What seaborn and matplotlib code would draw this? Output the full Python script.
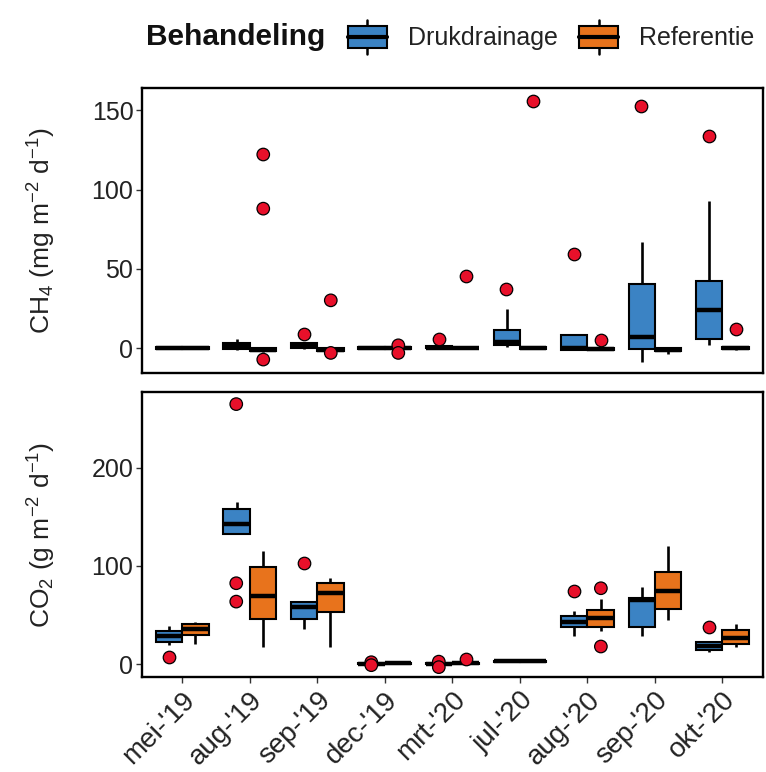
import numpy as np
import pandas as pd
import matplotlib
matplotlib.use("Agg")
import matplotlib.pyplot as plt
import seaborn as sns
from matplotlib.legend_handler import HandlerBase
from matplotlib.patches import Rectangle, Patch
from matplotlib.lines import Line2D

# ---------------- data ----------------
months = ["mei-'19", "aug-'19", "sep-'19", "dec-'19", "mrt-'20",
          "jul-'20", "aug-'20", "sep-'20", "okt-'20"]
treatments = ["Drukdrainage", "Referentie"]

# CH4 (mg m-2 d-1): whisker-low, Q1, median, Q3, whisker-high
ch4_D_lo  = [-0.5, -1.0, -0.5, -0.5, -0.5,  0.5, -1.0, -9.0,  2.0]
ch4_D_q1  = [-0.4, -0.5,  0.0, -0.4, -0.3,  1.7, -1.0, -0.4,  5.5]
ch4_D_med = [ 0.0,  1.0,  1.0,  0.0,  0.3,  4.0,  0.0,  7.0, 24.0]
ch4_D_q3  = [ 0.4,  3.0,  3.0,  0.4,  1.0, 11.6,  8.0, 40.6, 42.0]
ch4_D_hi  = [ 0.5,  6.0,  4.0,  0.5,  1.5, 24.8,  8.0, 67.0, 93.0]

ch4_R_lo  = [-0.5, -2.5, -2.5, -0.5, -0.5, -0.5, -1.5, -3.5, -1.0]
ch4_R_q1  = [-0.4, -2.0, -2.0, -0.4, -0.3, -0.4, -1.0, -2.0, -0.8]
ch4_R_med = [ 0.0, -1.0, -1.0,  0.0,  0.0,  0.0, -0.5, -1.0,  0.0]
ch4_R_q3  = [ 0.4,  0.0,  0.0,  0.4,  0.3,  0.4,  0.0,  0.0,  0.5]
ch4_R_hi  = [ 0.5,  0.5,  0.5,  0.5,  0.5,  0.5,  0.5,  0.5,  0.5]

ch4_out_month = ["sep-'19", "mrt-'20", "jul-'20", "aug-'20", "sep-'20", "okt-'20",
                 "aug-'19", "aug-'19", "aug-'19", "sep-'19", "sep-'19", "dec-'19",
                 "dec-'19", "mrt-'20", "jul-'20", "aug-'20", "okt-'20"]
ch4_out_trt = ["Drukdrainage"] * 6 + ["Referentie"] * 11
ch4_out_val = [8.6, 5.9, 37.2, 59.6, 153.0, 133.6,
               122.2, 88.0, -7.3, 30.1, -3.1, 1.7, -3.1, 45.4, 155.8, 4.9, 11.8]

# CO2 (g m-2 d-1)
co2_D_lo  = [19.7, 132.5, 35.6, -0.5, -0.5, 2.0, 28.8, 28.8, 12.9]
co2_D_q1  = [23.0, 132.5, 45.8,  0.0,  0.0, 2.5, 38.3, 38.3, 14.6]
co2_D_med = [28.8, 142.7, 58.0,  0.5,  0.5, 3.0, 43.4, 65.0, 18.6]
co2_D_q3  = [34.2, 158.3, 63.0,  1.0,  1.2, 3.5, 49.5, 67.0, 23.0]
co2_D_hi  = [39.0, 165.4, 63.0,  1.5,  2.0, 4.0, 54.0, 79.0, 23.0]

co2_R_lo  = [20.7,  17.0, 17.0,  0.0,  0.0, 2.0, 34.0, 45.0, 18.0]
co2_R_q1  = [29.8,  45.8, 52.9,  0.5,  0.5, 2.5, 38.3, 56.3, 20.3]
co2_R_med = [35.6,  69.5, 72.2,  1.0,  1.0, 3.0, 47.0, 75.0, 26.4]
co2_R_q3  = [40.7,  99.3, 82.4,  1.5,  1.5, 3.5, 55.3, 94.2, 34.9]
co2_R_hi  = [43.4, 115.6, 87.5,  2.0,  2.0, 4.0, 66.0, 120.7, 40.7]

co2_out_month = ["mei-'19", "aug-'19", "aug-'19", "aug-'19", "sep-'19", "dec-'19",
                 "dec-'19", "mrt-'20", "mrt-'20", "aug-'20", "okt-'20",
                 "mrt-'20", "aug-'20", "aug-'20"]
co2_out_trt = ["Drukdrainage"] * 11 + ["Referentie"] * 3
co2_out_val = [7.8, 264.7, 82.4, 63.7, 103.4, 2.0, -1.0, 2.6, -3.0, 74.6, 38.3,
               5.0, 77.3, 18.0]

# ---------------- styling ----------------
blue = "#3B83C4"
orange = "#E8731C"
red = "#E8102A"

sns.set_theme(style="white")
plt.rcParams["font.family"] = ["Liberation Sans", "DejaVu Sans"]
plt.rcParams["mathtext.fontset"] = "custom"
plt.rcParams["mathtext.rm"] = "Liberation Sans"
plt.rcParams["mathtext.it"] = "Liberation Sans:italic"
plt.rcParams["mathtext.bf"] = "Liberation Sans:bold"


def core_frame(stats_D, stats_R):
    rows = []
    for trt, stats in ((treatments[0], stats_D), (treatments[1], stats_R)):
        for stat in stats:
            for m, v in zip(months, stat):
                rows.append((m, trt, v))
    return pd.DataFrame(rows, columns=["month", "Behandeling", "value"])


ch4_core = core_frame([ch4_D_lo, ch4_D_q1, ch4_D_med, ch4_D_q3, ch4_D_hi],
                      [ch4_R_lo, ch4_R_q1, ch4_R_med, ch4_R_q3, ch4_R_hi])
co2_core = core_frame([co2_D_lo, co2_D_q1, co2_D_med, co2_D_q3, co2_D_hi],
                      [co2_R_lo, co2_R_q1, co2_R_med, co2_R_q3, co2_R_hi])
ch4_out = pd.DataFrame({"month": ch4_out_month, "Behandeling": ch4_out_trt,
                        "value": ch4_out_val})
co2_out = pd.DataFrame({"month": co2_out_month, "Behandeling": co2_out_trt,
                        "value": co2_out_val})

fig = plt.figure(figsize=(7.66, 7.72), dpi=100)
ax1 = fig.add_axes([0.185, 0.5164, 0.811, 0.3692])
ax2 = fig.add_axes([0.185, 0.1231, 0.811, 0.3691])


def draw(ax, core, outl):
    sns.boxplot(data=core, x="month", y="value", hue="Behandeling",
                order=months, hue_order=treatments, palette=[blue, orange],
                width=0.78, gap=0, whis=(0, 100), showfliers=False,
                saturation=1, linecolor="black", linewidth=1.5,
                medianprops=dict(linewidth=3.2, color="black"),
                whiskerprops=dict(linewidth=1.9, color="black"),
                capprops=dict(visible=False), legend=False, ax=ax)
    sns.stripplot(data=outl, x="month", y="value", hue="Behandeling",
                  order=months, hue_order=treatments, palette=[red, red],
                  dodge=True, jitter=False, size=9, edgecolor="black",
                  linewidth=0.9, legend=False, ax=ax, zorder=5)
    ax.set_xlim(-0.6, len(months) - 0.4)
    for sp in ax.spines.values():
        sp.set_visible(True)
        sp.set_color("black")
        sp.set_linewidth(1.7)
    ax.tick_params(axis="y", left=True, length=4, width=1.0, color="#333333",
                   labelsize=18, labelcolor="#222222", pad=2)
    ax.set_xlabel("")


draw(ax1, ch4_core, ch4_out)
draw(ax2, co2_core, co2_out)

ax1.set_ylim(-16, 164)
ax1.set_yticks([0, 50, 100, 150])
ax1.set_xticks([])
ax1.set_ylabel(r"CH$_4$ (mg m$^{-2}$ d$^{-1}$)", fontsize=19, color="#222222",
               labelpad=24)

ax2.set_ylim(-13, 277)
ax2.set_yticks([0, 100, 200])
ax2.set_xticks(range(len(months)))
ax2.set_xticklabels(months, rotation=45, ha="right", rotation_mode="anchor",
                    fontsize=20, color="#222222")
ax2.tick_params(axis="x", bottom=True, length=4, width=1.0, color="#333333", pad=3)
ax2.set_ylabel(r"CO$_2$ (g m$^{-2}$ d$^{-1}$)", fontsize=19, color="#222222",
               labelpad=24)
fig.align_ylabels([ax1, ax2])


class BoxHandler(HandlerBase):
    def create_artists(self, legend, orig_handle, xdescent, ydescent,
                       width, height, fontsize, trans):
        fc = orig_handle.get_facecolor()
        x0, y0 = -xdescent, -ydescent
        bh = height * 0.66
        by = y0 + (height - bh) / 2
        rect = Rectangle((x0, by), width, bh, facecolor=fc, edgecolor="black",
                         linewidth=1.5, transform=trans)
        med = Line2D([x0, x0 + width], [y0 + height / 2] * 2, color="black",
                     lw=3.0, transform=trans)
        wt = Line2D([x0 + width / 2] * 2, [by + bh, y0 + height], color="black",
                    lw=1.8, transform=trans)
        wb = Line2D([x0 + width / 2] * 2, [y0, by], color="black", lw=1.8,
                    transform=trans)
        return [wt, wb, rect, med]


handles = [Patch(facecolor=blue), Patch(facecolor=orange)]
fig.text(146 / 766, 1 - 37 / 772, "Behandeling", fontsize=21.5, fontweight="bold",
         ha="left", va="center", color="#111111")
fig.legend(handles, treatments, handler_map={Patch: BoxHandler()}, ncol=2,
           frameon=False, fontsize=18, handlelength=1.55, handleheight=1.75,
           columnspacing=0.85, handletextpad=0.85, loc="center left",
           bbox_to_anchor=(348 / 766, 1 - 37 / 772), borderaxespad=0,
           borderpad=0, labelcolor="#222222")

fig.savefig("out.png", dpi=100)
